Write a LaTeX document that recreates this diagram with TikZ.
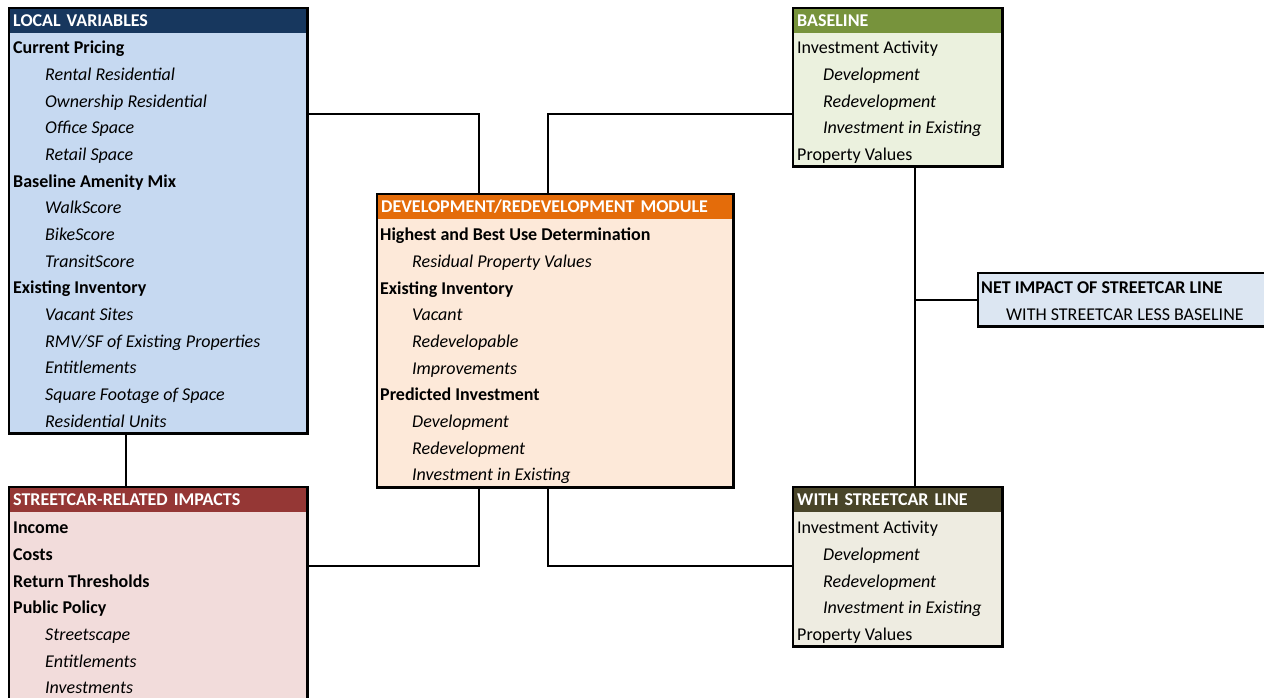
\documentclass[tikz,border=0pt]{standalone}
\usepackage{fontspec}
\setmainfont{Carlito}
\usepackage{tikz}
\usetikzlibrary{positioning}
\definecolor{lvhead}{HTML}{17375E}
\definecolor{lvbody}{HTML}{C6D9F1}
\definecolor{schead}{HTML}{953735}
\definecolor{scbody}{HTML}{F2DCDB}
\definecolor{devhead}{HTML}{E46C0A}
\definecolor{devbody}{HTML}{FDE9D9}
\definecolor{basehead}{HTML}{77933C}
\definecolor{basebody}{HTML}{EBF1DE}
\definecolor{wslhead}{HTML}{494529}
\definecolor{wslbody}{HTML}{EEECE1}
\definecolor{netbody}{HTML}{DCE6F2}
\tikzset{
  panel/.style={anchor=north west, inner sep=0pt},
  frame/.style={draw=black, line width=2.5pt},
  band/.style={inner xsep=4pt, inner ysep=0pt, minimum height=25pt, text=white, font=\fontsize{18}{20}\selectfont\bfseries, align=left},
  rows/.style={inner sep=0pt, align=left, font=\fontsize{18}{26.67}\selectfont},
  link/.style={draw=black, line width=2pt}
}
\newcommand{\hd}[1]{\strut\textbf{#1}}
\newcommand{\subitm}[1]{\strut\hspace*{32pt}\textit{#1}}
\newcommand{\subsm}[1]{\strut\hspace*{26pt}\textit{#1}}

\begin{document}
\begin{tikzpicture}[x=1pt,y=-1pt]
  \clip (0,0) rectangle (1264,698);
  \fill[white] (0,0) rectangle (1264,698);

  % input boxes
  \node[panel, fill=lvbody, minimum width=298pt, minimum height=425pt] (lv) at (9,8) {};
  \node[band, fill=lvhead, text width=290pt, below right=0pt and 0pt of lv.north west] (lvhd) {LOCAL VARIABLES};
  \node[rows, below right=27pt and 4pt of lv.north west] (lvtxt) {\hd{Current Pricing}\\
    \subitm{Rental Residential}\\ \subitm{Ownership Residential}\\ \subitm{Office Space}\\ \subitm{Retail Space}\\
    \hd{Baseline Amenity Mix}\\
    \subitm{WalkScore}\\ \subitm{BikeScore}\\ \subitm{TransitScore}\\
    \hd{Existing Inventory}\\
    \subitm{Vacant Sites}\\ \subitm{RMV/SF of Existing Properties}\\ \subitm{Entitlements}\\ \subitm{Square Footage of Space}\\ \subitm{Residential Units}};
  \draw[frame] (lv.north west) rectangle (lv.south east);

  \node[panel, fill=scbody, minimum width=298pt, minimum height=220pt] (sc) at (9,487) {};
  \node[band, fill=schead, text width=290pt, below right=0pt and 0pt of sc.north west] (schd) {STREETCAR-RELATED IMPACTS};
  \node[rows, below right=28pt and 4pt of sc.north west] (sctxt) {\hd{Income}\\ \hd{Costs}\\ \hd{Return Thresholds}\\ \hd{Public Policy}\\
    \subitm{Streetscape}\\ \subitm{Entitlements}\\ \subitm{Investments}};
  \draw[frame] (sc.north west) rectangle (sc.south east);

  % module
  \node[panel, fill=devbody, minimum width=356pt, minimum height=293pt] (dev) at (377,194) {};
  \node[band, fill=devhead, text width=348pt, below right=0pt and 0pt of dev.north west] (devhd) {DEVELOPMENT/REDEVELOPMENT MODULE};
  \node[rows, below right=28pt and 3pt of dev.north west] (devtxt) {\hd{Highest and Best Use Determination}\\
    \subitm{Residual Property Values}\\
    \hd{Existing Inventory}\\
    \subitm{Vacant}\\ \subitm{Redevelopable}\\ \subitm{Improvements}\\
    \hd{Predicted Investment}\\
    \subitm{Development}\\ \subitm{Redevelopment}\\ \subitm{Investment in Existing}};
  \draw[frame] (dev.north west) rectangle (dev.south east);

  % scenarios
  \node[panel, fill=basebody, minimum width=209pt, minimum height=158pt] (base) at (793,8) {};
  \node[band, fill=basehead, text width=201pt, below right=0pt and 0pt of base.north west] (basehd) {BASELINE};
  \node[rows, below right=27pt and 4pt of base.north west] (basetxt) {\strut Investment Activity\\
    \subsm{Development}\\ \subsm{Redevelopment}\\ \subsm{Investment in Existing}\\ \strut Property Values};
  \draw[frame] (base.north west) rectangle (base.south east);

  \node[panel, fill=wslbody, minimum width=209pt, minimum height=159pt] (wsl) at (793,487) {};
  \node[band, fill=wslhead, text width=201pt, below right=0pt and 0pt of wsl.north west] (wslhd) {WITH STREETCAR LINE};
  \node[rows, below right=28pt and 4pt of wsl.north west] (wsltxt) {\strut Investment Activity\\
    \subsm{Development}\\ \subsm{Redevelopment}\\ \subsm{Investment in Existing}\\ \strut Property Values};
  \draw[frame] (wsl.north west) rectangle (wsl.south east);

  \node[panel, fill=netbody, minimum width=300pt, minimum height=53pt] (net) at (978,273) {};
  \node[rows, below right=2pt and 3pt of net.north west] (nettxt) {\hd{NET IMPACT OF STREETCAR LINE}\\
    \strut\hspace*{25pt}WITH STREETCAR LESS BASELINE};
  \draw[frame] (net.north west) rectangle (net.south east);

  % connectors
  \draw[link] ([yshift=-106pt]lv.north east) -| ([xshift=102pt]dev.north west);
  \draw[link] ([xshift=171pt]dev.north west) |- ([yshift=-106pt]base.north west);
  \draw[link] ([xshift=117pt]lv.south west) -- ([xshift=117pt]sc.north west);
  \draw[link] ([yshift=-79pt]sc.north east) -| ([xshift=102pt]dev.south west);
  \draw[link] ([xshift=171pt]dev.south west) |- ([yshift=-79pt]wsl.north west);
  \coordinate (spine) at ([xshift=122pt]base.south west);
  \draw[link] (spine) -- ([xshift=122pt]wsl.north west);
  \draw[link] (net.west) -- (net.west -| spine);
\end{tikzpicture}
\end{document}
